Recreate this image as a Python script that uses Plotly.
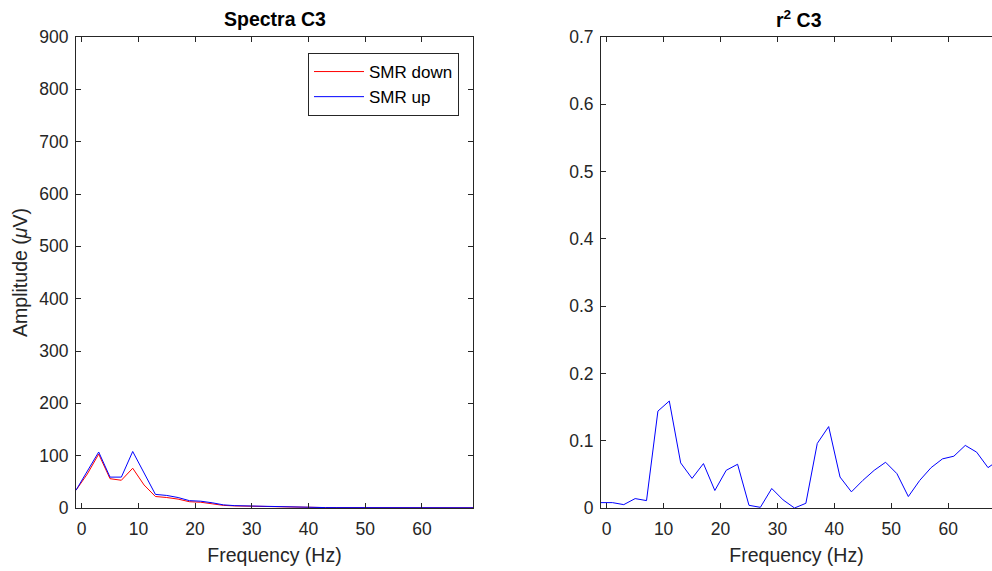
import plotly.graph_objects as go

freq = [-1, 1, 3, 5, 7, 9, 11, 13, 15, 17, 19, 21, 23, 25, 27, 29, 31, 33, 35,
        37, 39, 41, 43, 45, 47, 49, 51, 53, 55, 57, 59, 61, 63, 65, 67, 69]

smr_down = [34, 65, 103, 56, 53, 76, 44, 22, 20, 17, 12, 11, 8, 5, 4, 3.5, 2.5, 2, 1.5,
            1.2, 1, 0.9, 0.8, 0.7, 0.6, 0.6, 0.5, 0.5, 0.5, 0.5, 0.4, 0.4, 0.4, 0.4, 0.4, 0.4]
smr_up = [34, 70, 107, 59, 59, 108, 66, 26, 24, 20, 14, 13, 10, 6, 4.5, 4, 3, 2, 1.5,
          1.2, 1, 0.9, 0.8, 0.7, 0.6, 0.6, 0.5, 0.5, 0.5, 0.5, 0.4, 0.4, 0.4, 0.4, 0.4, 0.4]
r2 = [0.008, 0.008, 0.005, 0.014, 0.011, 0.144, 0.159, 0.067, 0.044, 0.066, 0.026, 0.056,
      0.065, 0.004, 0.001, 0.029, 0.012, 0.0, 0.007, 0.096, 0.121, 0.046, 0.024, 0.041,
      0.056, 0.068, 0.051, 0.017, 0.041, 0.060, 0.073, 0.077, 0.093, 0.083, 0.060, 0.072]

x_ticks = [0, 10, 20, 30, 40, 50, 60]
amp_ticks = [0, 100, 200, 300, 400, 500, 600, 700, 800, 900]
r2_ticks = [0, 0.1, 0.2, 0.3, 0.4, 0.5, 0.6, 0.7]
r2_ticklabels = ["0", "0.1", "0.2", "0.3", "0.4", "0.5", "0.6", "0.7"]

W, H = 992, 571
FONT = "Liberation Sans, Arial, sans-serif"
AX = "#262626"

fig = go.Figure()
fig.add_trace(go.Scatter(x=freq, y=smr_down, mode="lines", name="SMR down",
                         line=dict(color="#ff0000", width=1), xaxis="x", yaxis="y"))
fig.add_trace(go.Scatter(x=freq, y=smr_up, mode="lines", name="SMR up",
                         line=dict(color="#0000ff", width=1), xaxis="x", yaxis="y"))
fig.add_trace(go.Scatter(x=freq, y=r2, mode="lines", name="r2", showlegend=False,
                         line=dict(color="#0000ff", width=1), xaxis="x2", yaxis="y2"))


def px_x(p):
    return p / W


def px_y(p):
    return 1 - p / H


TICK_FONT = dict(family=FONT, size=17.5, color=AX)
LABEL_FONT = dict(family=FONT, size=19.5, color=AX)

common_ax = dict(showgrid=False, zeroline=False, showline=True, linecolor=AX, linewidth=1,
                 ticks="inside", ticklen=5, tickcolor=AX, automargin=False,
                 tickfont=TICK_FONT)

fig.update_layout(
    width=W, height=H, margin=dict(l=0, r=0, t=0, b=0, autoexpand=False),
    paper_bgcolor="white", plot_bgcolor="white",
    font=dict(family=FONT, color=AX),
    xaxis=dict(domain=[px_x(76), px_x(473)], range=[-1, 69], tickvals=x_ticks,
               mirror="ticks", anchor="y", ticklabelstandoff=5,
               title=dict(text="Frequency (Hz)", font=LABEL_FONT, standoff=10),
               **common_ax),
    yaxis=dict(domain=[px_y(508), px_y(37)], range=[0, 900], tickvals=amp_ticks,
               mirror="ticks", anchor="x", ticklabelstandoff=3,
               title=dict(text="Amplitude (<i>μ</i>V)", font=LABEL_FONT, standoff=6),
               **common_ax),
    xaxis2=dict(domain=[px_x(601), 1.0], range=[-1, 67.7], tickvals=x_ticks,
                mirror="ticks", anchor="y2", ticklabelstandoff=5,
                title=dict(text="Frequency (Hz)", font=LABEL_FONT, standoff=10),
                **common_ax),
    yaxis2=dict(domain=[px_y(508), px_y(37)], range=[0, 0.7],
                tickvals=r2_ticks, ticktext=r2_ticklabels, ticklabelstandoff=3,
                mirror=False, anchor="x2", **common_ax),
    legend=dict(x=px_x(308), y=px_y(53), xanchor="left", yanchor="top",
                bgcolor="white", bordercolor=AX, borderwidth=1,
                font=dict(family=FONT, size=17, color="black"),
                tracegroupgap=0, itemwidth=50),
    showlegend=True,
    annotations=[
        dict(text="<b>Spectra C3</b>", x=px_x(275), y=px_y(19), xref="paper", yref="paper",
             showarrow=False, font=dict(family=FONT, size=19.5, color="black"),
             xanchor="center", yanchor="middle"),
        dict(text="<b>r<sup>2</sup> C3</b>", x=px_x(799), y=px_y(19), xref="paper", yref="paper",
             showarrow=False, font=dict(family=FONT, size=19.5, color="black"),
             xanchor="center", yanchor="middle"),
    ],
)

fig.write_html("out.html", config={"displayModeBar": False},
               post_script="document.body.style.margin='0';")
